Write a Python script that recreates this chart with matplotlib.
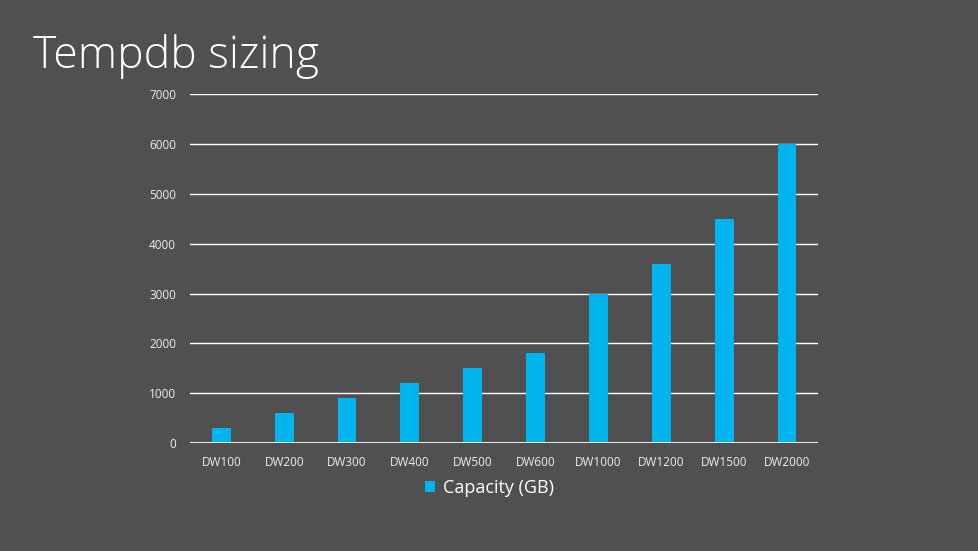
import matplotlib.pyplot as plt
import numpy as np

plt.rcParams['font.family'] = ['Open Sans', 'DejaVu Sans']

categories = ['DW100', 'DW200', 'DW300', 'DW400', 'DW500', 'DW600',
              'DW1000', 'DW1200', 'DW1500', 'DW2000']
capacity = [300, 600, 900, 1200, 1500, 1800, 3000, 3600, 4500, 6000]
yticks = [0, 1000, 2000, 3000, 4000, 5000, 6000, 7000]

bg = '#505050'
bar_color = '#00B4EE'

fig = plt.figure(figsize=(9.79, 5.51), dpi=100, facecolor=bg)
ax = fig.add_axes([0.194, 0.196, 0.642, 0.633], facecolor=bg)

x = np.arange(len(categories))
ax.bar(x, capacity, width=0.3, color=bar_color, zorder=3, label='Capacity (GB)')

ax.set_xlim(-0.5, len(categories) - 0.5)
ax.set_ylim(0, 7000)
ax.set_yticks(yticks)
ax.set_xticks(x)
ax.set_xticklabels(categories)
ax.yaxis.grid(True, color='white', linewidth=1, zorder=1)
ax.set_axisbelow(True)
for s in ax.spines.values():
    s.set_visible(False)
ax.axhline(0, color='white', linewidth=1.2, zorder=4)
ax.tick_params(axis='both', length=0, colors='#EEEEEE', labelsize=8.5)
ax.tick_params(axis='y', pad=10)
ax.tick_params(axis='x', pad=9)

# title, light weight like the slide deck
fig.text(0.034, 0.897, 'Tempdb sizing', color='white', fontsize=32,
         fontweight='light', va='center', ha='left')

leg = fig.legend(loc='center', bbox_to_anchor=(0.5, 0.115), frameon=False,
                 fontsize=13, handlelength=0.55, handleheight=0.55,
                 handletextpad=0.4, labelcolor='white')

fig.savefig('out.png', dpi=100, facecolor=bg)
